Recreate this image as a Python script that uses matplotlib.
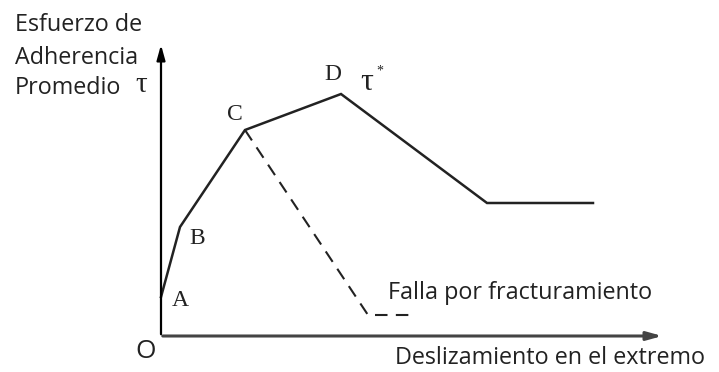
import matplotlib
matplotlib.use("Agg")
import matplotlib.pyplot as plt

# Bond stress vs. end slip, coordinates in figure pixels relative to the origin O
slip = [0, 19, 84, 180, 326, 432]
stress = [39, 109, 206, 242, 133, 133]
labels = ["A", "B", "C", "D"]

# splitting-failure branch leaving point C
split_slip = [84, 207, 252]
split_stress = [206, 21, 21]

x_end, y_end = 504, 294

fig = plt.figure(figsize=(7.19, 3.72), dpi=100)
ax = fig.add_axes([0, 0, 1, 1])
ax.set_xlim(-161, 558)
ax.set_ylim(-36, 336)
ax.axis("off")

# axes with arrows
ax.annotate("", xy=(x_end, 0), xytext=(-1, 0),
            arrowprops=dict(arrowstyle="-|>,head_length=0.9,head_width=0.25", color="#444444", lw=2.2))
ax.annotate("", xy=(0, y_end), xytext=(0, -1),
            arrowprops=dict(arrowstyle="-|>,head_length=0.9,head_width=0.25", color="black", lw=1.6))

ax.plot(slip, stress, color="#222222", lw=1.8, solid_joinstyle="miter")
ax.plot(split_slip, split_stress, color="#222222", lw=1.5, ls=(0, (6, 4)))

serif = dict(family="Liberation Serif", fontsize=17, color="#222222")
offsets = [(19, -3), (17, -11), (-10, 15), (-8, 19)]
for (dx, dy), x, y, t in zip(offsets, slip, stress, labels):
    ax.text(x + dx, y + dy, t, ha="center", va="center", **serif)
ax.text(slip[3] + 19, stress[3] + 12, "τ", ha="left", va="center",
        family="Liberation Serif", fontsize=23, color="#222222")
ax.text(slip[3] + 35, stress[3] + 23, "*", ha="left", va="center",
        family="Liberation Serif", fontsize=10, color="#222222")

sans = dict(family="Open Sans", fontsize=16.8, color="#222222")
ax.text(-15, -16, "O", ha="center", va="center", family="Open Sans", fontsize=19, color="#222222")
ax.text(-146, 311, "Esfuerzo de", ha="left", va="center", **sans)
ax.text(-146, 278, "Adherencia", ha="left", va="center", **sans)
ax.text(-146, 248, "Promedio", ha="left", va="center", **sans)
ax.text(-26, 251, "τ", ha="left", va="center", family="Liberation Serif", fontsize=21, color="#222222")
ax.text(227, 43, "Falla por fracturamiento", ha="left", va="center", **sans)
ax.text(234, -22, "Deslizamiento en el extremo", ha="left", va="center", **sans)

fig.savefig("out.png", dpi=100)
